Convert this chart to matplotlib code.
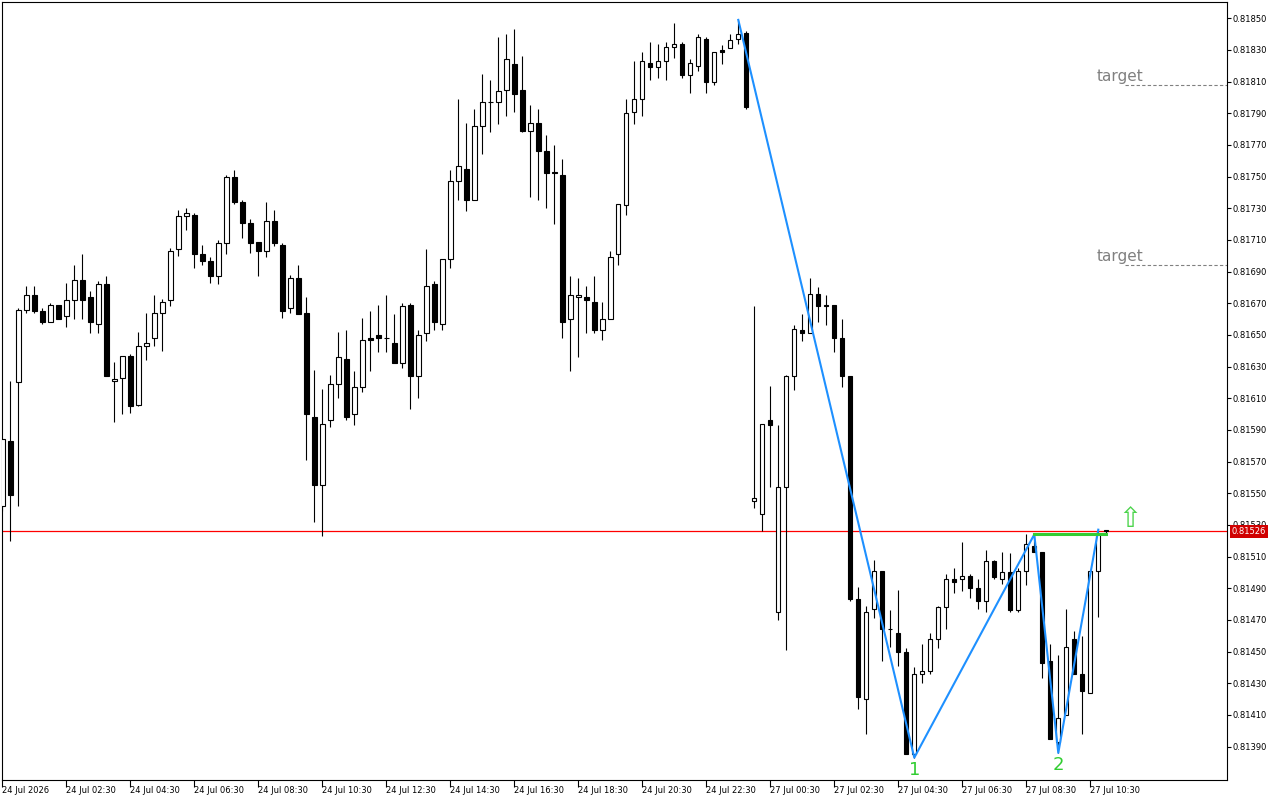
#!/usr/bin/env python3
"""
Redraw of an MT4-style M15 candlestick chart (24-27 Jul 2026) with the
zigzag double-bottom overlay, the neckline, two target levels and the
last-price line. Saves out.png at 1280x800.
"""

import matplotlib
matplotlib.use("Agg")
import matplotlib.pyplot as plt
import matplotlib.transforms as mtransforms
import numpy as np

# --- M15 bars, oldest first (Friday 00:30 .. Monday 10:30, weekend skipped) ---
OPEN = [
    0.81542, 0.81583, 0.81620, 0.81666, 0.81675, 0.81665, 0.81658, 0.81669, 0.81662, 0.81672,
    0.81685, 0.81674, 0.81657, 0.81682, 0.81621, 0.81623, 0.81637, 0.81606, 0.81643, 0.81648,
    0.81664, 0.81672, 0.81704, 0.81725, 0.81726, 0.81701, 0.81697, 0.81687, 0.81708, 0.81750,
    0.81734, 0.81721, 0.81709, 0.81703, 0.81722, 0.81707, 0.81667, 0.81686, 0.81664, 0.81598,
    0.81555, 0.81596, 0.81619, 0.81635, 0.81600, 0.81617, 0.81648, 0.81650, 0.81648, 0.81645,
    0.81632, 0.81669, 0.81624, 0.81651, 0.81682, 0.81657, 0.81698, 0.81747, 0.81755, 0.81735,
    0.81782, 0.81797, 0.81797, 0.81805, 0.81821, 0.81805, 0.81779, 0.81784, 0.81766, 0.81753,
    0.81751, 0.81660, 0.81674, 0.81674, 0.81671, 0.81653, 0.81660, 0.81701, 0.81732, 0.81791,
    0.81799, 0.81822, 0.81819, 0.81823, 0.81832, 0.81834, 0.81814, 0.81820, 0.81837, 0.81810,
    0.81830, 0.81831, 0.81837, 0.81841, 0.81545, 0.81537, 0.81596, 0.81475, 0.81554, 0.81624,
    0.81653, 0.81651, 0.81676, 0.81669, 0.81669, 0.81648, 0.81624, 0.81483, 0.81420, 0.81477,
    0.81501, 0.81464, 0.81462, 0.81450, 0.81385, 0.81436, 0.81438, 0.81458, 0.81478, 0.81496,
    0.81496, 0.81498, 0.81490, 0.81482, 0.81507, 0.81496, 0.81500, 0.81476, 0.81501, 0.81517,
    0.81513, 0.81444, 0.81393, 0.81410, 0.81458, 0.81436, 0.81424, 0.81501, 0.81527,
]
HIGH = [
    0.81584, 0.81621, 0.81667, 0.81681, 0.81681, 0.81667, 0.81670, 0.81669, 0.81683, 0.81694,
    0.81701, 0.81678, 0.81684, 0.81687, 0.81633, 0.81637, 0.81638, 0.81652, 0.81664, 0.81675,
    0.81673, 0.81705, 0.81729, 0.81730, 0.81727, 0.81707, 0.81699, 0.81710, 0.81751, 0.81754,
    0.81735, 0.81723, 0.81709, 0.81734, 0.81729, 0.81708, 0.81688, 0.81694, 0.81674, 0.81628,
    0.81616, 0.81625, 0.81652, 0.81653, 0.81627, 0.81661, 0.81665, 0.81669, 0.81675, 0.81663,
    0.81670, 0.81670, 0.81653, 0.81704, 0.81684, 0.81698, 0.81754, 0.81799, 0.81784, 0.81793,
    0.81815, 0.81811, 0.81838, 0.81840, 0.81843, 0.81826, 0.81795, 0.81793, 0.81776, 0.81770,
    0.81761, 0.81687, 0.81686, 0.81681, 0.81687, 0.81671, 0.81703, 0.81733, 0.81799, 0.81823,
    0.81829, 0.81835, 0.81834, 0.81835, 0.81847, 0.81835, 0.81824, 0.81840, 0.81838, 0.81829,
    0.81833, 0.81840, 0.81849, 0.81842, 0.81668, 0.81594, 0.81618, 0.81593, 0.81625, 0.81656,
    0.81663, 0.81686, 0.81680, 0.81675, 0.81669, 0.81660, 0.81624, 0.81491, 0.81479, 0.81508,
    0.81501, 0.81476, 0.81489, 0.81452, 0.81440, 0.81455, 0.81462, 0.81479, 0.81499, 0.81503,
    0.81519, 0.81499, 0.81496, 0.81514, 0.81508, 0.81513, 0.81512, 0.81503, 0.81524, 0.81524,
    0.81513, 0.81455, 0.81448, 0.81477, 0.81463, 0.81460, 0.81501, 0.81527, 0.81527,
]
LOW = [
    0.81539, 0.81520, 0.81542, 0.81664, 0.81664, 0.81657, 0.81658, 0.81660, 0.81655, 0.81660,
    0.81660, 0.81651, 0.81651, 0.81624, 0.81595, 0.81600, 0.81601, 0.81605, 0.81634, 0.81643,
    0.81640, 0.81668, 0.81700, 0.81716, 0.81692, 0.81694, 0.81683, 0.81682, 0.81701, 0.81733,
    0.81711, 0.81702, 0.81687, 0.81699, 0.81706, 0.81661, 0.81664, 0.81663, 0.81571, 0.81532,
    0.81523, 0.81592, 0.81610, 0.81596, 0.81593, 0.81614, 0.81627, 0.81639, 0.81639, 0.81632,
    0.81629, 0.81603, 0.81610, 0.81646, 0.81653, 0.81653, 0.81692, 0.81735, 0.81728, 0.81735,
    0.81764, 0.81778, 0.81783, 0.81788, 0.81791, 0.81778, 0.81737, 0.81735, 0.81730, 0.81720,
    0.81648, 0.81627, 0.81636, 0.81651, 0.81651, 0.81647, 0.81660, 0.81694, 0.81726, 0.81783,
    0.81788, 0.81811, 0.81812, 0.81811, 0.81825, 0.81812, 0.81803, 0.81817, 0.81803, 0.81808,
    0.81821, 0.81831, 0.81834, 0.81793, 0.81541, 0.81526, 0.81554, 0.81470, 0.81451, 0.81615,
    0.81646, 0.81651, 0.81658, 0.81656, 0.81639, 0.81617, 0.81482, 0.81414, 0.81398, 0.81471,
    0.81444, 0.81453, 0.81441, 0.81385, 0.81383, 0.81430, 0.81436, 0.81452, 0.81464, 0.81487,
    0.81488, 0.81484, 0.81477, 0.81475, 0.81496, 0.81493, 0.81475, 0.81475, 0.81492, 0.81513,
    0.81433, 0.81395, 0.81386, 0.81410, 0.81436, 0.81398, 0.81424, 0.81472, 0.81525,
]
CLOSE = [
    0.81584, 0.81549, 0.81666, 0.81675, 0.81665, 0.81658, 0.81669, 0.81660, 0.81672, 0.81685,
    0.81672, 0.81658, 0.81682, 0.81624, 0.81622, 0.81637, 0.81605, 0.81643, 0.81645, 0.81664,
    0.81671, 0.81703, 0.81725, 0.81727, 0.81701, 0.81697, 0.81687, 0.81708, 0.81750, 0.81734,
    0.81721, 0.81708, 0.81703, 0.81722, 0.81708, 0.81665, 0.81686, 0.81663, 0.81600, 0.81555,
    0.81594, 0.81619, 0.81636, 0.81598, 0.81617, 0.81647, 0.81647, 0.81648, 0.81648, 0.81632,
    0.81668, 0.81624, 0.81650, 0.81681, 0.81658, 0.81698, 0.81747, 0.81757, 0.81735, 0.81782,
    0.81797, 0.81797, 0.81804, 0.81824, 0.81802, 0.81779, 0.81784, 0.81766, 0.81752, 0.81752,
    0.81658, 0.81675, 0.81675, 0.81672, 0.81653, 0.81660, 0.81699, 0.81733, 0.81790, 0.81799,
    0.81823, 0.81819, 0.81823, 0.81832, 0.81834, 0.81814, 0.81822, 0.81838, 0.81810, 0.81829,
    0.81829, 0.81836, 0.81840, 0.81794, 0.81547, 0.81594, 0.81593, 0.81554, 0.81624, 0.81654,
    0.81651, 0.81676, 0.81668, 0.81668, 0.81648, 0.81624, 0.81483, 0.81421, 0.81475, 0.81501,
    0.81464, 0.81464, 0.81450, 0.81385, 0.81436, 0.81438, 0.81458, 0.81478, 0.81496, 0.81494,
    0.81498, 0.81490, 0.81482, 0.81507, 0.81497, 0.81500, 0.81476, 0.81501, 0.81518, 0.81513,
    0.81443, 0.81395, 0.81408, 0.81453, 0.81436, 0.81425, 0.81501, 0.81524, 0.81526,
]

# time axis: one label every 8 bars (2 hours), starting at bar 0
TIME_LABELS = [
    "24 Jul 2026", "24 Jul 02:30", "24 Jul 04:30", "24 Jul 06:30", "24 Jul 08:30",
    "24 Jul 10:30", "24 Jul 12:30", "24 Jul 14:30", "24 Jul 16:30", "24 Jul 18:30",
    "24 Jul 20:30", "24 Jul 22:30", "27 Jul 00:30", "27 Jul 02:30", "27 Jul 04:30",
    "27 Jul 06:30", "27 Jul 08:30", "27 Jul 10:30",
]
BARS_PER_LABEL = 8

PRICE_TICKS = [
    0.81390, 0.81410, 0.81430, 0.81450, 0.81470, 0.81490, 0.81510, 0.81530,
    0.81550, 0.81570, 0.81590, 0.81610, 0.81630, 0.81650, 0.81670, 0.81690,
    0.81710, 0.81730, 0.81750, 0.81770, 0.81790, 0.81810, 0.81830, 0.81850,
]

# zigzag swing points (bar index, price) and the double-bottom markup
ZIGZAG_BARS = [92, 114, 129, 132, 137]
ZIGZAG_PRICES = [0.81849, 0.81383, 0.81524, 0.81386, 0.81527]
BOTTOM_BARS = [114, 132]
BOTTOM_TEXT = ["1", "2"]
NECKLINE_BARS = [129, 138]
NECKLINE_PRICE = 0.81524
TARGETS = [0.81808, 0.81694]
LAST_PRICE = 0.81526

# view window (bar index / price), matches the MT4 screen
XLIM = (-0.04, 153.09)
YLIM = (0.813692, 0.818603)

GREEN = "#32CD32"
BLUE = "#1E90FF"
RED = "#FF0000"


def draw_candles(ax):
    o, h, l, c = (np.asarray(a) for a in (OPEN, HIGH, LOW, CLOSE))
    x = np.arange(len(o))
    up = c >= o
    bottom = np.minimum(o, c)
    height = np.abs(c - o)

    ax.vlines(x, l, h, color="black", lw=0.8, zorder=3)
    ax.bar(x[up], height[up], 0.55, bottom=bottom[up], facecolor="white",
           edgecolor="black", lw=0.8, zorder=4)
    ax.bar(x[~up], height[~up], 0.55, bottom=bottom[~up], facecolor="black",
           edgecolor="black", lw=0.8, zorder=4)


def draw_markup(ax):
    # last price line + red price tag on the scale
    ax.axhline(LAST_PRICE, color=RED, lw=0.9, zorder=2)
    trans = mtransforms.blended_transform_factory(ax.transAxes, ax.transData)
    ax.annotate(f"{LAST_PRICE:.5f}", xy=(1.0, LAST_PRICE), xycoords=trans,
                xytext=(3.5, 0), textcoords="offset points", ha="left", va="center",
                color="white", fontsize=6,
                bbox=dict(boxstyle="square,pad=0.25", fc="#D00000", ec="none"),
                annotation_clip=False, zorder=10)

    # zigzag and neckline
    ax.plot(ZIGZAG_BARS, ZIGZAG_PRICES, color=BLUE, lw=1.5, zorder=6)
    ax.plot(NECKLINE_BARS, [NECKLINE_PRICE] * 2, color=GREEN, lw=2.2, zorder=7)

    lows = dict(zip(range(len(LOW)), LOW))
    for bar, txt in zip(BOTTOM_BARS, BOTTOM_TEXT):
        ax.annotate(txt, xy=(bar, lows[bar]), xytext=(0, -2.5), textcoords="offset points",
                    ha="center", va="top", color=GREEN, fontsize=13,
                    annotation_clip=False, zorder=8)

    # breakout arrow a few bars right of the last candle
    last = len(CLOSE) - 1
    ax.annotate("\u21e7", xy=(last + 3, LAST_PRICE), xytext=(0, 9),
                textcoords="offset points", ha="center", va="center",
                color="#4CD44C", fontsize=20, zorder=8)

    # target levels: dashed stub to the scale with a label on top
    for level in TARGETS:
        ax.plot([last + 2.3, XLIM[1]], [level, level], color="#808080", lw=0.8,
                dashes=(3, 2), zorder=2)
        ax.annotate("target", xy=(last - 1.2, level), xytext=(0, 3),
                    textcoords="offset points", ha="left", va="baseline",
                    color="#808080", fontsize=11, zorder=8)


def style_axes(ax):
    ax.set_xlim(*XLIM)
    ax.set_ylim(*YLIM)
    for side in ("top", "bottom", "left", "right"):
        ax.spines[side].set_color("black")
        ax.spines[side].set_linewidth(0.8)

    ax.yaxis.tick_right()
    ax.set_yticks(PRICE_TICKS)
    ax.set_yticklabels([f"{p:.5f}" for p in PRICE_TICKS])
    ax.tick_params(axis="y", direction="out", length=3, width=0.8, pad=0.8,
                   labelsize=6, colors="black")

    ax.set_xticks(np.arange(len(TIME_LABELS)) * BARS_PER_LABEL)
    ax.set_xticklabels(TIME_LABELS)
    ax.tick_params(axis="x", direction="out", length=5, width=0.8, pad=-0.5,
                   labelsize=6, colors="black")
    for lbl in ax.get_xticklabels():
        lbl.set_horizontalalignment("left")


def main():
    fig = plt.figure(figsize=(12.8, 8), dpi=100)
    ax = fig.add_axes([2 / 1280, 1 - 779.5 / 800, 1225 / 1280, 777.5 / 800])
    draw_candles(ax)
    draw_markup(ax)
    style_axes(ax)
    fig.savefig("out.png", dpi=100, facecolor="white")
    plt.close(fig)


if __name__ == "__main__":
    main()
